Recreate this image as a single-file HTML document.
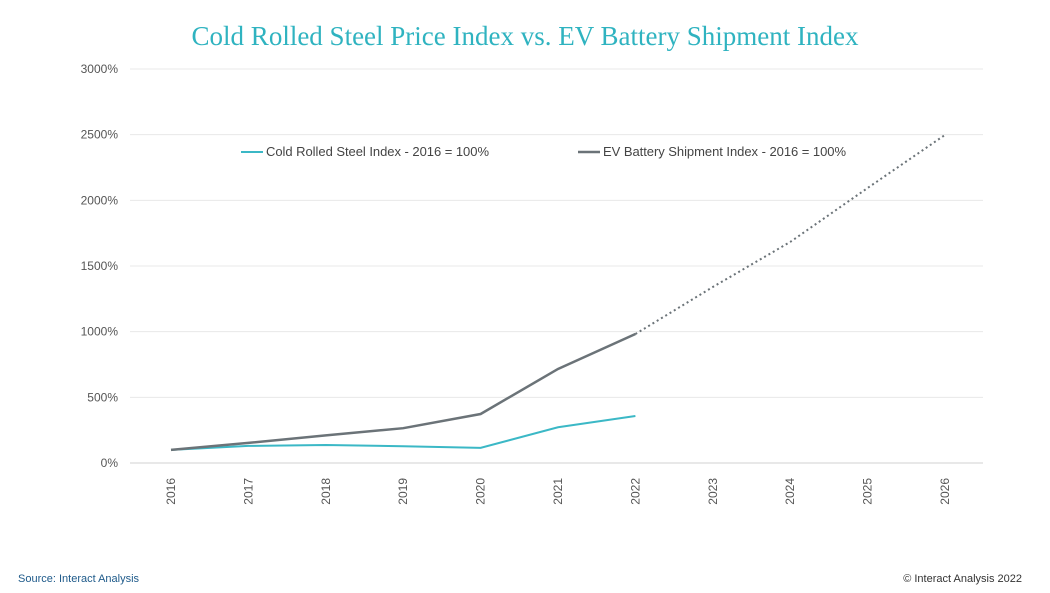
<!DOCTYPE html>
<html><head><meta charset="utf-8"><style>
body{margin:0;background:#fff;width:1050px;height:588px;overflow:hidden;font-family:"Liberation Sans",sans-serif}
</style></head><body>
<svg id="c" width="1050" height="588" xmlns="http://www.w3.org/2000/svg">
<text x="525" y="45" text-anchor="middle" font-family="Liberation Serif,serif" font-size="27" fill="#2fb3c0">Cold Rolled Steel Price Index vs. EV Battery Shipment Index</text>
<g id="grid"></g><g id="series"></g>
<g>
<line x1="241" y1="152" x2="263" y2="152" stroke="#3bb8c6" stroke-width="2"/>
<text x="266" y="156" font-size="13" textLength="223" fill="#444">Cold Rolled Steel Index - 2016 = 100%</text>
<line x1="578" y1="152" x2="600" y2="152" stroke="#6b7378" stroke-width="2.5"/>
<text x="603" y="156" font-size="13" textLength="243" fill="#444">EV Battery Shipment Index - 2016 = 100%</text>
</g>
<text x="18" y="582" font-size="11" fill="#1e5a8a">Source: Interact Analysis</text>
<text x="1022" y="582" text-anchor="end" font-size="11" fill="#333">© Interact Analysis 2022</text>
</svg>
<script>
const years=["2016","2017","2018","2019","2020","2021","2022","2023","2024","2025","2026"];
const yTicks=[0,500,1000,1500,2000,2500,3000];
const steel=[100,130,137,128,115,272,358];
const evActual=[100,153,210,265,373,716,982];
const evForecast=[982,1340,1683,2094,2498];
const NS="http://www.w3.org/2000/svg";
const X=i=>171+i*77.4, Y=v=>463-v*(394/3000);
const grid=document.getElementById('grid'), ser=document.getElementById('series');
function mk(tag,attrs,parent){const e=document.createElementNS(NS,tag);for(const k in attrs)e.setAttribute(k,attrs[k]);parent.appendChild(e);return e;}
yTicks.forEach(t=>{
 const l=mk('line',{x1:130,x2:983,y1:Y(t),y2:Y(t),stroke:t===0?'#d0d0d0':'#e8e8e8','stroke-width':1},grid);
 
 
 const tx=mk('text',{x:118,y:Y(t)+4,'text-anchor':'end','font-size':12,fill:'#555'},grid);tx.textContent=t+'%';
 
 
});
years.forEach((y,i)=>{
 const tx=mk('text',{x:0,y:0,'font-size':12,fill:'#555','text-anchor':'end',transform:`translate(${X(i)+4},478) rotate(-90)`},grid);tx.textContent=y;
 
 
});
function pts(arr,off){return arr.map((v,i)=>X(i+off)+','+Y(v)).join(' ');}
const s=mk('polyline',{points:pts(steel,0),fill:'none',stroke:'#3bb8c6','stroke-width':2},ser);


const e=mk('polyline',{points:pts(evActual,0),fill:'none',stroke:'#6b7378','stroke-width':2.5},ser);


const f=mk('polyline',{points:pts(evForecast,6),fill:'none',stroke:'#6b7378','stroke-width':2,'stroke-dasharray':'2,3'},ser);


</script>
</body></html>
